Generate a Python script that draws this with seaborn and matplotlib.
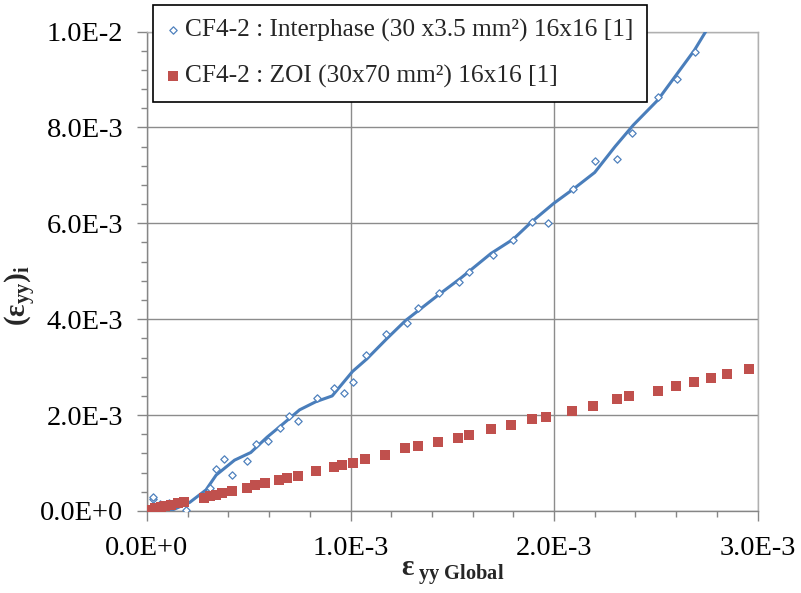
import matplotlib
matplotlib.use("Agg")
import matplotlib.pyplot as plt
from matplotlib.ticker import MultipleLocator, FuncFormatter
import seaborn as sns

# ── Data (strain values in units of 1E-3) ────────────────────────────────────
# CF4-2 : Interphase, measured points
inter_x = [0.028, 0.031, 0.064, 0.11, 0.19, 0.31, 0.34, 0.38, 0.42, 0.49,
           0.536, 0.593, 0.654, 0.696, 0.744, 0.837, 0.920, 0.970, 1.014, 1.076,
           1.174, 1.279, 1.333, 1.435, 1.535, 1.584, 1.699, 1.797, 1.891, 1.969,
           2.095, 2.201, 2.310, 2.383, 2.511, 2.604, 2.693]
inter_y = [0.25, 0.30, 0.146, 0.17, 0.02, 0.47, 0.88, 1.08, 0.76, 1.04,
           1.40, 1.45, 1.74, 1.98, 1.88, 2.35, 2.56, 2.47, 2.68, 3.25,
           3.69, 3.93, 4.24, 4.55, 4.78, 4.98, 5.34, 5.65, 6.03, 6.01,
           6.71, 7.29, 7.34, 7.88, 8.63, 9.00, 9.57]

# smoothed interphase curve
curve_x = [0.00, 0.06, 0.13, 0.21, 0.29, 0.34, 0.43, 0.51, 0.59, 0.65,
           0.75, 0.83, 0.91, 1.01, 1.08, 1.18, 1.27, 1.43, 1.54, 1.69,
           1.80, 1.89, 2.00, 2.10, 2.20, 2.30, 2.39, 2.51, 2.60, 2.69, 2.76]
curve_y = [0.00, 0.00, 0.03, 0.18, 0.44, 0.75, 1.06, 1.22, 1.54, 1.75,
           2.11, 2.28, 2.40, 2.91, 3.17, 3.60, 3.97, 4.50, 4.85, 5.37,
           5.67, 6.03, 6.42, 6.73, 7.06, 7.60, 8.05, 8.57, 9.09, 9.61, 10.10]

# CF4-2 : ZOI
zoi_x = [0.00, 0.02, 0.04, 0.07, 0.09, 0.12, 0.15, 0.18, 0.28, 0.31,
         0.34, 0.37, 0.42, 0.49, 0.53, 0.58, 0.65, 0.69, 0.74, 0.83,
         0.92, 0.96, 1.01, 1.07, 1.17, 1.27, 1.33, 1.43, 1.53, 1.58,
         1.69, 1.79, 1.89, 1.96, 2.09, 2.19, 2.31, 2.37, 2.51, 2.60,
         2.69, 2.77, 2.85, 2.96]
zoi_y = [0.01, 0.03, 0.06, 0.09, 0.10, 0.13, 0.16, 0.19, 0.28, 0.31,
         0.33, 0.37, 0.42, 0.49, 0.54, 0.59, 0.65, 0.69, 0.73, 0.84,
         0.92, 0.96, 1.01, 1.09, 1.17, 1.31, 1.35, 1.44, 1.53, 1.59,
         1.70, 1.80, 1.91, 1.96, 2.09, 2.19, 2.33, 2.39, 2.51, 2.61,
         2.69, 2.78, 2.86, 2.96]

LABEL_INTER = "CF4-2 : Interphase (30 x3.5 mm²) 16x16 [1]"
LABEL_ZOI = "CF4-2 : ZOI (30x70 mm²) 16x16 [1]"

SCALE = 1e-3
BLUE = "#4F81BD"
LINE_BLUE = "#4A7EBB"
RED = "#C0504D"

# ── Style ────────────────────────────────────────────────────────────────────
sns.set_theme(style="white")
plt.rcParams["font.family"] = ["Liberation Serif", "DejaVu Serif"]
plt.rcParams["mathtext.fontset"] = "custom"
plt.rcParams["mathtext.rm"] = "Liberation Serif"
plt.rcParams["mathtext.bf"] = "Liberation Serif:bold"
plt.rcParams["mathtext.it"] = "Liberation Serif:italic"

fig = plt.figure(figsize=(8.01, 5.93), dpi=100)
ax = fig.add_axes([147 / 801, 1 - 511 / 593, 610.5 / 801, 479.5 / 593])

sns.lineplot(x=[v * SCALE for v in curve_x], y=[v * SCALE for v in curve_y],
             color=LINE_BLUE, linewidth=2.2, sort=False, ax=ax, zorder=3)
sns.scatterplot(x=[v * SCALE for v in inter_x], y=[v * SCALE for v in inter_y],
                marker="D", s=14, facecolor="white", edgecolor=BLUE,
                linewidth=0.9, label=LABEL_INTER, ax=ax, zorder=4)
sns.scatterplot(x=[v * SCALE for v in zoi_x], y=[v * SCALE for v in zoi_y],
                marker="s", s=42, color=RED, edgecolor=RED, linewidth=0,
                label=LABEL_ZOI, ax=ax, zorder=5)

ax.set_xlim(0, 3e-3)
ax.set_ylim(0, 1e-2)
ax.xaxis.set_major_locator(MultipleLocator(1e-3))
ax.xaxis.set_minor_locator(MultipleLocator(0.2e-3))
ax.yaxis.set_major_locator(MultipleLocator(2e-3))
ax.yaxis.set_minor_locator(MultipleLocator(0.4e-3))


def sci(v, pos):
    m, e = f"{v:.1E}".split("E")
    return f"{m}E{int(e):+d}"


ax.xaxis.set_major_formatter(FuncFormatter(sci))
ax.yaxis.set_major_formatter(FuncFormatter(sci))

ax.grid(True, which="major", color="#8c8c8c", linewidth=1.0)
ax.set_axisbelow(True)
for side in ["left", "bottom"]:
    ax.spines[side].set_color("#868686")
    ax.spines[side].set_linewidth(1.0)
for side in ["top", "right"]:
    ax.spines[side].set_color("#b0b0b0")
    ax.spines[side].set_linewidth(1.0)

ax.tick_params(which="major", direction="out", length=7, width=1,
               color="#868686", labelsize=20.5, labelcolor="black",
               bottom=True, left=True)
ax.tick_params(which="minor", direction="out", length=4, width=1,
               color="#868686", bottom=True, left=True)
ax.tick_params(axis="x", which="major", pad=11)
ax.tick_params(axis="y", which="major", pad=10)

ax.set_xlabel(r"$\mathbf{ε}_{\mathbf{\ yy\ Global}}$", fontsize=21)
ax.set_ylabel(r"$\mathbf{(ε}_{\mathbf{yy}}\mathbf{)}_{\mathbf{i}}$", fontsize=21)
ax.xaxis.set_label_coords(0.5, -0.10)
ax.yaxis.set_label_coords(-0.178, 0.45)

leg = ax.legend(loc="upper left", bbox_to_anchor=(153 / 801, 1 - 5 / 593),
                bbox_transform=fig.transFigure, fontsize=18.3, frameon=True,
                fancybox=False, edgecolor="black", framealpha=1,
                borderpad=0.55, labelspacing=0.9, handletextpad=0.2,
                handlelength=0.5, borderaxespad=0)
leg.get_frame().set_linewidth(1.2)
leg.set_zorder(10)

fig.savefig("out.png", dpi=100)
